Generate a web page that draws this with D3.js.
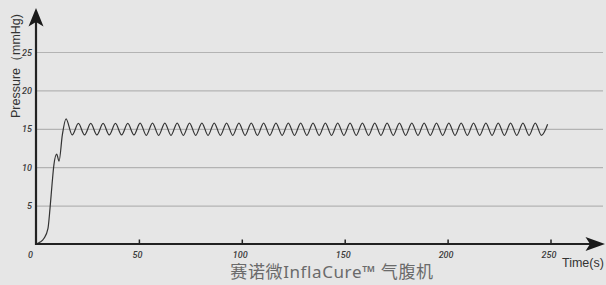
<!DOCTYPE html>
<html>
<head>
<meta charset="utf-8">
<script src="https://cdn.jsdelivr.net/npm/d3@7"></script>
<style>
  body { margin: 0; background: #e6e6e6; }
  svg { display: block; }
  .tick-label { font-family: Roboto, "Liberation Sans", sans-serif; font-style: italic; font-size: 9px; fill: #3a3a3a; font-weight: 500; }
</style>
</head>
<body>
<svg id="chart"></svg>
<script>
// time (s) of each read point on the curve
const times = [
  0, 2, 3.9, 5.8, 6.8, 7.9, 8.7, 10.05, 11.2, 12.8, 14.6,
  17.6, 20.6, 23.6, 26.6, 29.6, 32.6, 35.6, 38.6, 41.6, 44.6,
  47.6, 50.6, 53.6, 56.6, 59.6, 62.6, 65.6, 68.6, 71.6, 74.6,
  77.6, 80.6, 83.6, 86.6, 89.6, 92.6, 95.6, 98.6, 101.6, 104.6,
  107.6, 110.6, 113.6, 116.6, 119.6, 122.6, 125.6, 128.6, 131.6, 134.6,
  137.6, 140.6, 143.6, 146.6, 149.6, 152.6, 155.6, 158.6, 161.6, 164.6,
  167.6, 170.6, 173.6, 176.6, 179.6, 182.6, 185.6, 188.6, 191.6, 194.6,
  197.6, 200.6, 203.6, 206.6, 209.6, 212.6, 215.6, 218.6, 221.6, 224.6,
  227.6, 230.6, 233.6, 236.6, 239.6, 242.6, 245.6, 248.6
];
// pressure (mmHg) at those times
const pressures = [
  0, 0.25, 0.75, 2.0, 4.6, 8.1, 10.3, 11.7, 10.8, 14.2, 16.3,
  14.2, 15.7, 14.2, 15.7, 14.2, 15.7, 14.2, 15.7, 14.2, 15.7,
  14.2, 15.75, 14.15, 15.75, 14.15, 15.75, 14.15, 15.75, 14.15, 15.75,
  14.15, 15.75, 14.15, 15.75, 14.15, 15.75, 14.15, 15.75, 14.15, 15.75,
  14.15, 15.75, 14.15, 15.75, 14.15, 15.75, 14.15, 15.75, 14.15, 15.75,
  14.15, 15.75, 14.15, 15.75, 14.15, 15.75, 14.15, 15.75, 14.15, 15.75,
  14.15, 15.75, 14.15, 15.75, 14.15, 15.75, 14.15, 15.75, 14.15, 15.75,
  14.15, 15.75, 14.15, 15.75, 14.15, 15.75, 14.15, 15.75, 14.15, 15.75,
  14.15, 15.75, 14.15, 15.75, 14.15, 15.75, 14.15, 15.6
];
const xTicks = [0, 50, 100, 150, 200, 250];
const yTicks = [5, 10, 15, 20, 25];

const W = 606, H = 285;

var svg = d3.select('#chart')
            .attr('width', W)
            .attr('height', H);

svg.append('rect')
   .attr('width', W)
   .attr('height', H)
   .attr('fill', '#e6e6e6');

var x = d3.scaleLinear().domain([0, 250]).range([36, 550.5]);
var y = d3.scaleLinear().domain([0, 25]).range([244, 52]);

// grid lines + y labels
var yAxis = svg.append('g')
   .attr('transform', 'translate(36,0)')
   .call(d3.axisLeft(y).tickValues(yTicks).tickSize(-567).tickPadding(5));
yAxis.select('.domain').remove();
yAxis.selectAll('.tick line').attr('stroke', '#b3b3b3').attr('stroke-width', 1.2);
yAxis.selectAll('.tick text')
     .attr('class', 'tick-label')
     .attr('x', -4)
     .attr('dy', '0.35em');

// x ticks
var xAxis = svg.append('g')
   .attr('transform', 'translate(0,244)')
   .call(d3.axisBottom(x).tickValues(xTicks).tickSize(-4.5).tickPadding(0));
xAxis.select('.domain').remove();
xAxis.selectAll('.tick line')
     .attr('stroke', '#222')
     .attr('stroke-width', 1.5)
     .filter(d => d === 0).remove();
xAxis.selectAll('.tick text')
     .attr('class', 'tick-label')
     .attr('y', 14)
     .attr('dy', 0)
     .attr('dx', d => d === 0 ? -6 : -2);

// the curve
var pts = times.map((t, i) => [t, pressures[i]]);
var line = d3.line()
             .x(d => x(d[0]))
             .y(d => y(d[1]))
             .curve(d3.curveMonotoneX);
svg.append('path')
   .attr('d', line(pts))
   .attr('fill', 'none')
   .attr('stroke', '#333')
   .attr('stroke-width', 1.2);

// axes lines with arrows
svg.append('line')
   .attr('x1', 36).attr('y1', 245)
   .attr('x2', 36).attr('y2', 20)
   .attr('stroke', '#222').attr('stroke-width', 2.2);
svg.append('line')
   .attr('x1', 35).attr('y1', 244)
   .attr('x2', 592).attr('y2', 244)
   .attr('stroke', '#222').attr('stroke-width', 2.2);
svg.append('path')
   .attr('d', 'M36,8 L43.5,26.5 L36,22 L28.5,26.5 Z')
   .attr('fill', '#1a1a1a');
svg.append('path')
   .attr('d', 'M605,244 L585.5,237 L590,244 L585.5,251 Z')
   .attr('fill', '#1a1a1a');

// titles
svg.append('text')
   .attr('transform', 'translate(20,118) rotate(-90)')
   .style('font-family', '"Liberation Sans", Arial, sans-serif')
   .style('font-size', '12.5px')
   .attr('fill', '#333')
   .text('Pressure（mmHg)');

svg.append('text')
   .attr('x', 562)
   .attr('y', 267)
   .style('font-family', '"Liberation Sans", Arial, sans-serif')
   .style('font-size', '12.5px')
   .attr('fill', '#333')
   .text('Time(s)');

svg.append('text')
   .attr('x', 332)
   .attr('y', 278)
   .style('text-anchor', 'middle')
   .style('font-family', '"Noto Sans", "Noto Sans CJK SC", sans-serif')
   .style('font-size', '17px')
   .style('letter-spacing', '0.6px')
   .attr('fill', '#6a6a6a')
   .text('赛诺微InflaCure™ 气腹机');
</script>
</body>
</html>
